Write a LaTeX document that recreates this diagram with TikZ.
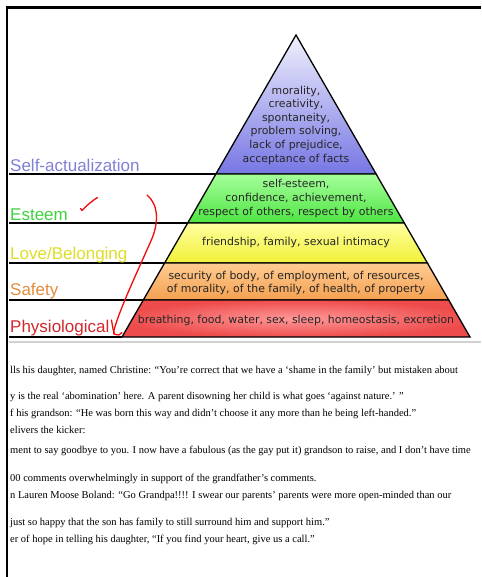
\documentclass[tikz,border=0pt]{standalone}
\usepackage{fontspec}
\setmainfont{Liberation Serif}
\newfontfamily\labelfont{Liberation Sans}
\newfontfamily\pyrfont{DejaVu Sans}
\usetikzlibrary{calc}

% level label colours
\definecolor{saLab}{RGB}{128,128,214}
\definecolor{esLab}{RGB}{62,210,62}
\definecolor{lbLab}{RGB}{222,222,40}
\definecolor{sfLab}{RGB}{226,142,62}
\definecolor{phLab}{RGB}{210,40,44}
% band fills
\definecolor{saTop}{RGB}{240,240,253}
\definecolor{saBot}{RGB}{118,118,228}
\definecolor{esTop}{RGB}{165,255,155}
\definecolor{esBot}{RGB}{78,228,66}
\definecolor{lbTop}{RGB}{255,255,160}
\definecolor{lbBot}{RGB}{240,240,56}
\definecolor{sfTop}{RGB}{255,204,146}
\definecolor{sfBot}{RGB}{244,160,80}
\definecolor{phIn}{RGB}{255,152,152}
\definecolor{phOut}{RGB}{238,76,76}
\definecolor{pen}{RGB}{245,10,10}

\tikzset{
  band/.style={draw=black, line width=1.3pt, line join=miter},
  rule/.style={draw=black, line width=1.2pt},
  pyrtext/.style={align=center, inner sep=0pt, text=black!85,
    font=\pyrfont\fontsize{10.9}{13.6}\selectfont},
  level/.style={anchor=base west, inner sep=0pt,
    font=\labelfont\fontsize{17}{20}\selectfont},
  bodytext/.style={anchor=base west, inner sep=0pt,
    font=\fontsize{10.5}{12}\selectfont},
  pen/.style={draw=pen, line width=1.3pt, line cap=round, line join=round}
}

\begin{document}
\begin{tikzpicture}[x=1pt,y=-1pt]
\useasboundingbox (0,0) rectangle (481,577);
\fill[white] (0,0) rectangle (481,577);

% pyramid corners
\coordinate (apex) at (296,35);
\coordinate (l1) at (215.9,174); \coordinate (r1) at (376.1,174);
\coordinate (l2) at (187.7,223); \coordinate (r2) at (404.3,223);
\coordinate (l3) at (164.6,263); \coordinate (r3) at (427.4,263);
\coordinate (l4) at (143.3,300); \coordinate (r4) at (448.7,300);
\coordinate (l5) at (122,337);   \coordinate (r5) at (470,337);

% left ends of the level rules
\coordinate (e1) at (9,174);
\coordinate (e2) at (9,223);
\coordinate (e3) at (9,263);
\coordinate (e4) at (9,300);
\coordinate (e5) at (9,337);

% bands
\path[band, top color=saTop, bottom color=saBot] (apex) -- (r1) -- (l1) -- cycle;
\path[band, top color=esTop, bottom color=esBot] (l1) -- (r1) -- (r2) -- (l2) -- cycle;
\path[band, top color=lbTop, bottom color=lbBot] (l2) -- (r2) -- (r3) -- (l3) -- cycle;
\path[band, top color=sfTop, bottom color=sfBot] (l3) -- (r3) -- (r4) -- (l4) -- cycle;
\path[band, inner color=phIn, outer color=phOut] (l4) -- (r4) -- (r5) -- (l5) -- cycle;

% rules from the margin to the pyramid
\draw[rule] (e1) -- (l1);
\draw[rule] (e2) -- (l2);
\draw[rule] (e3) -- (l3);
\draw[rule] (e4) -- (l4);
\draw[rule] (e5) -- (l5);

% band contents
\node[pyrtext] (satext) at (296,125) {morality,\\creativity,\\spontaneity,\\problem solving,\\lack of prejudice,\\acceptance of facts};
\node[pyrtext] (estext) at (296,198.5) {self-esteem,\\confidence, achievement,\\respect of others, respect by others};
\node[pyrtext] (lbtext) at (296,242.5) {friendship, family, sexual intimacy};
\node[pyrtext] (sftext) at (296,283) {security of body, of employment, of resources,\\of morality, of the family, of health, of property};
\node[pyrtext] (phtext) at (296,320) {breathing, food, water, sex, sleep, homeostasis, excretion};

% level names
\node[level, text=saLab] (salab) at (10,172) {Self-actualization};
\node[level, text=esLab] (eslab) at (10,220.5) {Esteem};
\node[level, text=lbLab] (lblab) at (10,259.5) {Love/Belonging};
\node[level, text=sfLab] (sflab) at (10,295.5) {Safety};
\node[level, text=phLab] (phlab) at (10,332) {Physiological};

% separator under the chart
\draw[black!18, line width=1.2pt] (9,342) -- (481,342);

% article text
\begin{scope}
\clip (9,345) rectangle (481,577);
\node[bodytext] (t1) at (10,373) {lls his daughter, named Christine: “You’re correct that we have a ‘shame in the family’ but mistaken about};
\node[bodytext] (t2) at (10,399) {y is the real ‘abomination’ here. A parent disowning her child is what goes ‘against nature.’ ”};
\node[bodytext] (t3) at (10,416) {f his grandson: “He was born this way and didn’t choose it any more than he being left-handed.”};
\node[bodytext] (t4) at (10,433) {elivers the kicker:};
\node[bodytext] (t5) at (10,453) {ment to say goodbye to you. I now have a fabulous (as the gay put it) grandson to raise, and I don’t have time};
\node[bodytext] (t6) at (10,481) {00 comments overwhelmingly in support of the grandfather’s comments.};
\node[bodytext] (t7) at (10,498) {n Lauren Moose Boland: “Go Grandpa!!!! I swear our parents’ parents were more open-minded than our};
\node[bodytext] (t8) at (10,525) {just so happy that the son has family to still surround him and support him.”};
\node[bodytext] (t9) at (10,542) {er of hope in telling his daughter, “If you find your heart, give us a call.”};
\end{scope}

% page frame
\draw[black, line width=2.8pt] (7,577) -- (7,7.5) -- (481,7.5);

% pen marks
\draw[pen] (80.5,208.5) -- (82,210.5) .. controls (87,205) and (92,201) .. (97.5,197.5);
\coordinate (ps) at (147,195);
\coordinate (pm) at (150,243);
\coordinate (pb) at (115.5,334.5);
\draw[pen] (ps) .. controls (158,204) and (160,222) .. (pm)
  .. controls (140,266) and (120,308) .. (114,330)
  .. controls (113.5,334) and (113.5,335) .. (pb)
  .. controls (118,336) and (120,335) .. (122,332.5);
\draw[pen] (111.5,320) .. controls (112.5,326) and (113,330) .. (114.3,333.5);
\end{tikzpicture}
\end{document}
